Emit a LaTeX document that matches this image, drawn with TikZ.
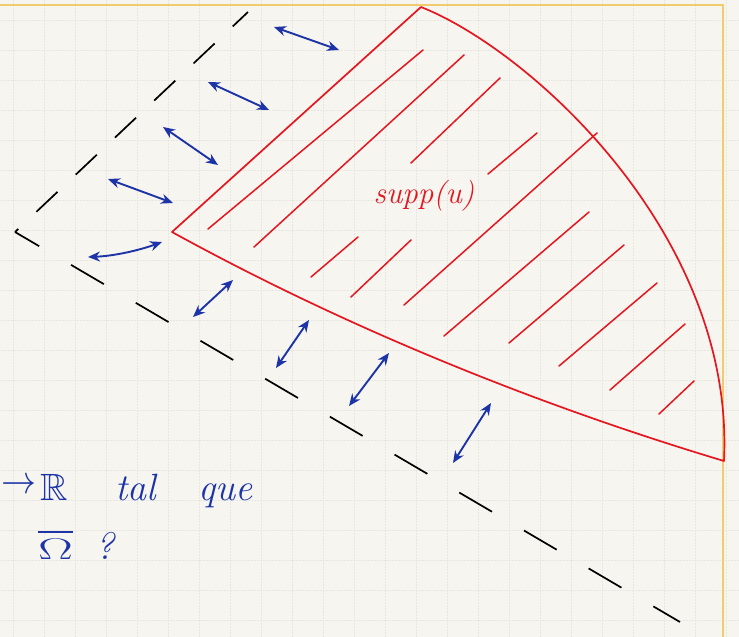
\documentclass[tikz,border=0pt]{standalone}
\usepackage{amsmath}
\usepackage{amssymb}
\usepackage{xcolor}
\usepackage{tikz}
\usetikzlibrary{arrows.meta}

\definecolor{paper}{RGB}{247,245,239}
\definecolor{gridgray}{RGB}{231,230,225}
\definecolor{margin}{RGB}{242,204,108}
\definecolor{inkred}{RGB}{228,22,32}
\definecolor{inkblue}{RGB}{28,52,168}

\begin{document}
\begin{tikzpicture}[
    x=1pt, y=-1pt,
    gridline/.style={draw=gridgray, line width=0.5pt, densely dotted},
    boundary/.style={draw=black, line width=1.7pt},
    outline/.style={draw=inkred, line width=1.7pt, line join=round},
    hatch/.style={draw=inkred, line width=1.5pt, line cap=round},
    bothway/.style={draw=inkblue, line width=1.9pt, {Stealth[length=12pt,width=10pt]}-{Stealth[length=12pt,width=10pt]}},
    redhand/.style={text=inkred, font=\fontsize{31}{35}\selectfont\itshape, inner sep=0pt},
    bluehand/.style={text=inkblue, font=\fontsize{38}{42}\selectfont\itshape, inner sep=0pt}
  ]

  % Paper sheet
  \useasboundingbox (0,0) rectangle (739,637);
  \fill[paper] (0,0) rectangle (739,637);
  \foreach \gx in {13,44,...,730} \draw[gridline] (\gx,0) -- (\gx,637);
  \foreach \gy in {20,50,...,637} \draw[gridline] (0,\gy) -- (739,\gy);
  \draw[margin, line width=2.6pt] (0,5) -- (723,5) -- (723,637);

  % Dashed wedge
  \coordinate (corner) at (15,232);
  \coordinate (uptip) at (248,12);
  \coordinate (lowtip) at (680,622);
  \draw[boundary, dash pattern=on 29pt off 25pt, dash phase=24.5pt] (corner) -- (uptip);
  \draw[boundary, dash pattern=on 38pt off 37pt, dash phase=10pt] (corner) -- (lowtip);

  % Support of u
  \coordinate (apex) at (172,232);
  \coordinate (top) at (421,7);
  \coordinate (tail) at (724,461);
  \draw[outline] (apex) -- (top) .. controls (530,50) and (735,235) .. (tail)
    .. controls (544,407) and (352,331) .. cycle;

  \foreach \ax/\ay/\bx/\by in {423/50/208/229, 464/55/254/247, 500/78/411/163,
      537/133/488/174, 597/133/404/305, 358/237/311/277, 411/240/351/297,
      589/212/444/336, 624/245/509/343, 657/283/559/366, 685/324/610/390,
      694/381/659/414}
    \draw[hatch] (\ax,\ay) -- (\bx,\by);

  \node[redhand] (supp) at (424,196) {supp(u)};

  % Blue arrows
  \draw[bothway] (274,27) -- (339,50);
  \draw[bothway] (208,82) -- (269,110);
  \draw[bothway] (163,127) -- (218,165);
  \draw[bothway] (108,179) -- (173,203);
  \draw[bothway] (88,257) .. controls (115,256) and (140,250) .. (162,242);
  \draw[bothway] (193,317) -- (233,280);
  \draw[bothway] (276,368) -- (309,320);
  \draw[bothway] (349,406) -- (389,353);
  \draw[bothway] (453,463) -- (491,403);

  % Text below
  \node[bluehand, anchor=west] (maparrow) at (1,486) {\scalebox{1.4}[1.6]{$\to$}};
  \node[bluehand, anchor=base west] (reals) at (40,500) {$\mathbb{R}$};
  \node[bluehand, anchor=base west] (tal) at (115,500) {tal};
  \node[bluehand, anchor=base west] (que) at (198,500) {que};
  \node[bluehand, anchor=base west] (closure) at (38,559) {\scalebox{2.1}[1.2]{$\overline{\Omega}$}};
  \node[bluehand, anchor=base west] (qmark) at (95,559) {?};

\end{tikzpicture}
\end{document}
